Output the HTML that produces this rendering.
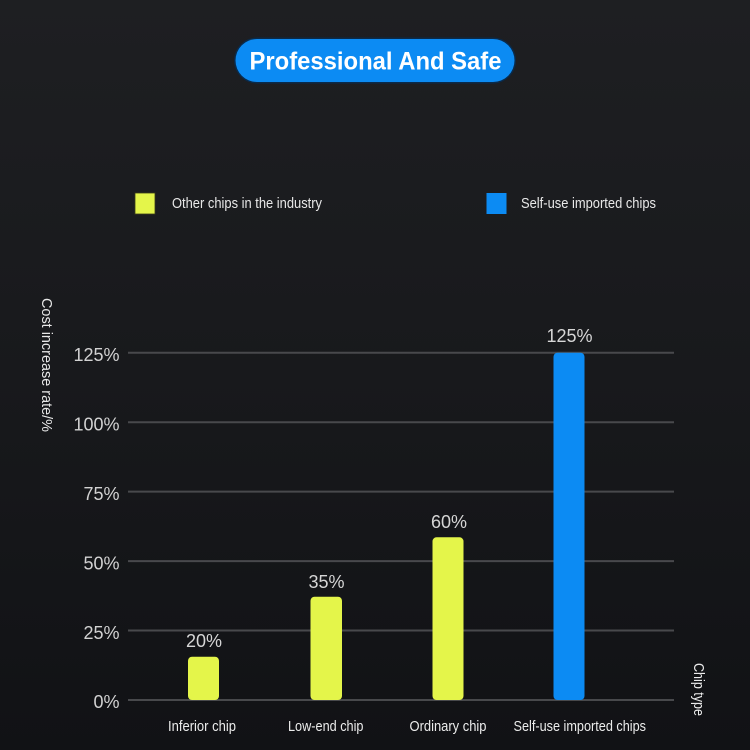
<!DOCTYPE html>
<html>
<head>
<meta charset="utf-8">
<style>
html,body{margin:0;padding:0;width:750px;height:750px;overflow:hidden;background:#161719;}
svg{display:block;}
text{font-family:"Liberation Sans",sans-serif;}
</style>
</head>
<body>
<svg width="750" height="750" viewBox="0 0 750 750" xmlns="http://www.w3.org/2000/svg">
  <defs>
    <linearGradient id="bg" x1="0" y1="0" x2="0" y2="1">
      <stop offset="0" stop-color="#1e1f22"/>
      <stop offset="0.5" stop-color="#18191c"/>
      <stop offset="1" stop-color="#111215"/>
    </linearGradient>
  </defs>
  <rect x="0" y="0" width="750" height="750" fill="url(#bg)"/>

  <!-- Title pill -->
  <rect x="234" y="37.5" width="282" height="46" rx="23" fill="#0a2a4a"/>
  <rect x="235.5" y="39" width="279" height="43" rx="21.5" fill="#0c8bf3"/>
  <text x="249.5" y="69.5" font-size="25" font-weight="bold" fill="#ffffff" textLength="252" lengthAdjust="spacingAndGlyphs">Professional And Safe</text>

  <!-- Legend -->
  <rect x="135" y="193" width="20" height="21" fill="#e4f54a" stroke="#3a3d1a" stroke-width="0.8"/>
  <text x="172" y="208" font-size="14.5" fill="#e8e8e8" textLength="150" lengthAdjust="spacingAndGlyphs">Other chips in the industry</text>
  <rect x="486.5" y="193" width="20" height="21" fill="#0c8bf3"/>
  <text x="521" y="208" font-size="14.5" fill="#e8e8e8" textLength="135" lengthAdjust="spacingAndGlyphs">Self-use imported chips</text>

  <!-- Y axis title -->
  <text transform="translate(42,298) rotate(90)" x="0" y="0" font-size="15" fill="#e8e8e8" textLength="134" lengthAdjust="spacingAndGlyphs">Cost increase rate/%</text>

  <!-- Gridlines -->
  <g stroke="#48494c" stroke-width="2">
    <line x1="128" y1="352.7" x2="674" y2="352.7"/>
    <line x1="128" y1="422.2" x2="674" y2="422.2"/>
    <line x1="128" y1="491.6" x2="674" y2="491.6"/>
    <line x1="128" y1="561.1" x2="674" y2="561.1"/>
    <line x1="128" y1="630.5" x2="674" y2="630.5"/>
    <line x1="128" y1="700" x2="674" y2="700"/>
  </g>

  <!-- Y tick labels -->
  <g font-size="18" fill="#d2d2d2" text-anchor="end">
    <text x="119.5" y="361">125%</text>
    <text x="119.5" y="430.5">100%</text>
    <text x="119.5" y="500">75%</text>
    <text x="119.5" y="569.5">50%</text>
    <text x="119.5" y="639">25%</text>
    <text x="119.5" y="708">0%</text>
  </g>

  <!-- Bars -->
  <rect x="188" y="656.7" width="31" height="43.3" rx="4" fill="#e4f54a"/>
  <rect x="310.5" y="596.7" width="31.5" height="103.3" rx="4" fill="#e4f54a"/>
  <rect x="432.5" y="537.3" width="31" height="162.7" rx="4" fill="#e4f54a"/>
  <rect x="553.5" y="352.7" width="31" height="347.3" rx="4" fill="#0c8bf3"/>

  <!-- Value labels -->
  <g font-size="18" fill="#d6d6d6" text-anchor="middle">
    <text x="204" y="647">20%</text>
    <text x="326.5" y="588">35%</text>
    <text x="449" y="528">60%</text>
    <text x="569.5" y="342">125%</text>
  </g>

  <!-- Category labels -->
  <g font-size="15" fill="#ececec">
    <text x="168" y="731" textLength="68" lengthAdjust="spacingAndGlyphs">Inferior chip</text>
    <text x="288" y="731" textLength="75.5" lengthAdjust="spacingAndGlyphs">Low-end chip</text>
    <text x="409.5" y="731" textLength="77" lengthAdjust="spacingAndGlyphs">Ordinary chip</text>
    <text x="513.5" y="731" textLength="132.5" lengthAdjust="spacingAndGlyphs">Self-use imported chips</text>
  </g>

  <!-- X axis title -->
  <text transform="translate(694,663) rotate(90)" x="0" y="0" font-size="15" fill="#ececec" textLength="53" lengthAdjust="spacingAndGlyphs">Chip type</text>
</svg>
</body>
</html>
